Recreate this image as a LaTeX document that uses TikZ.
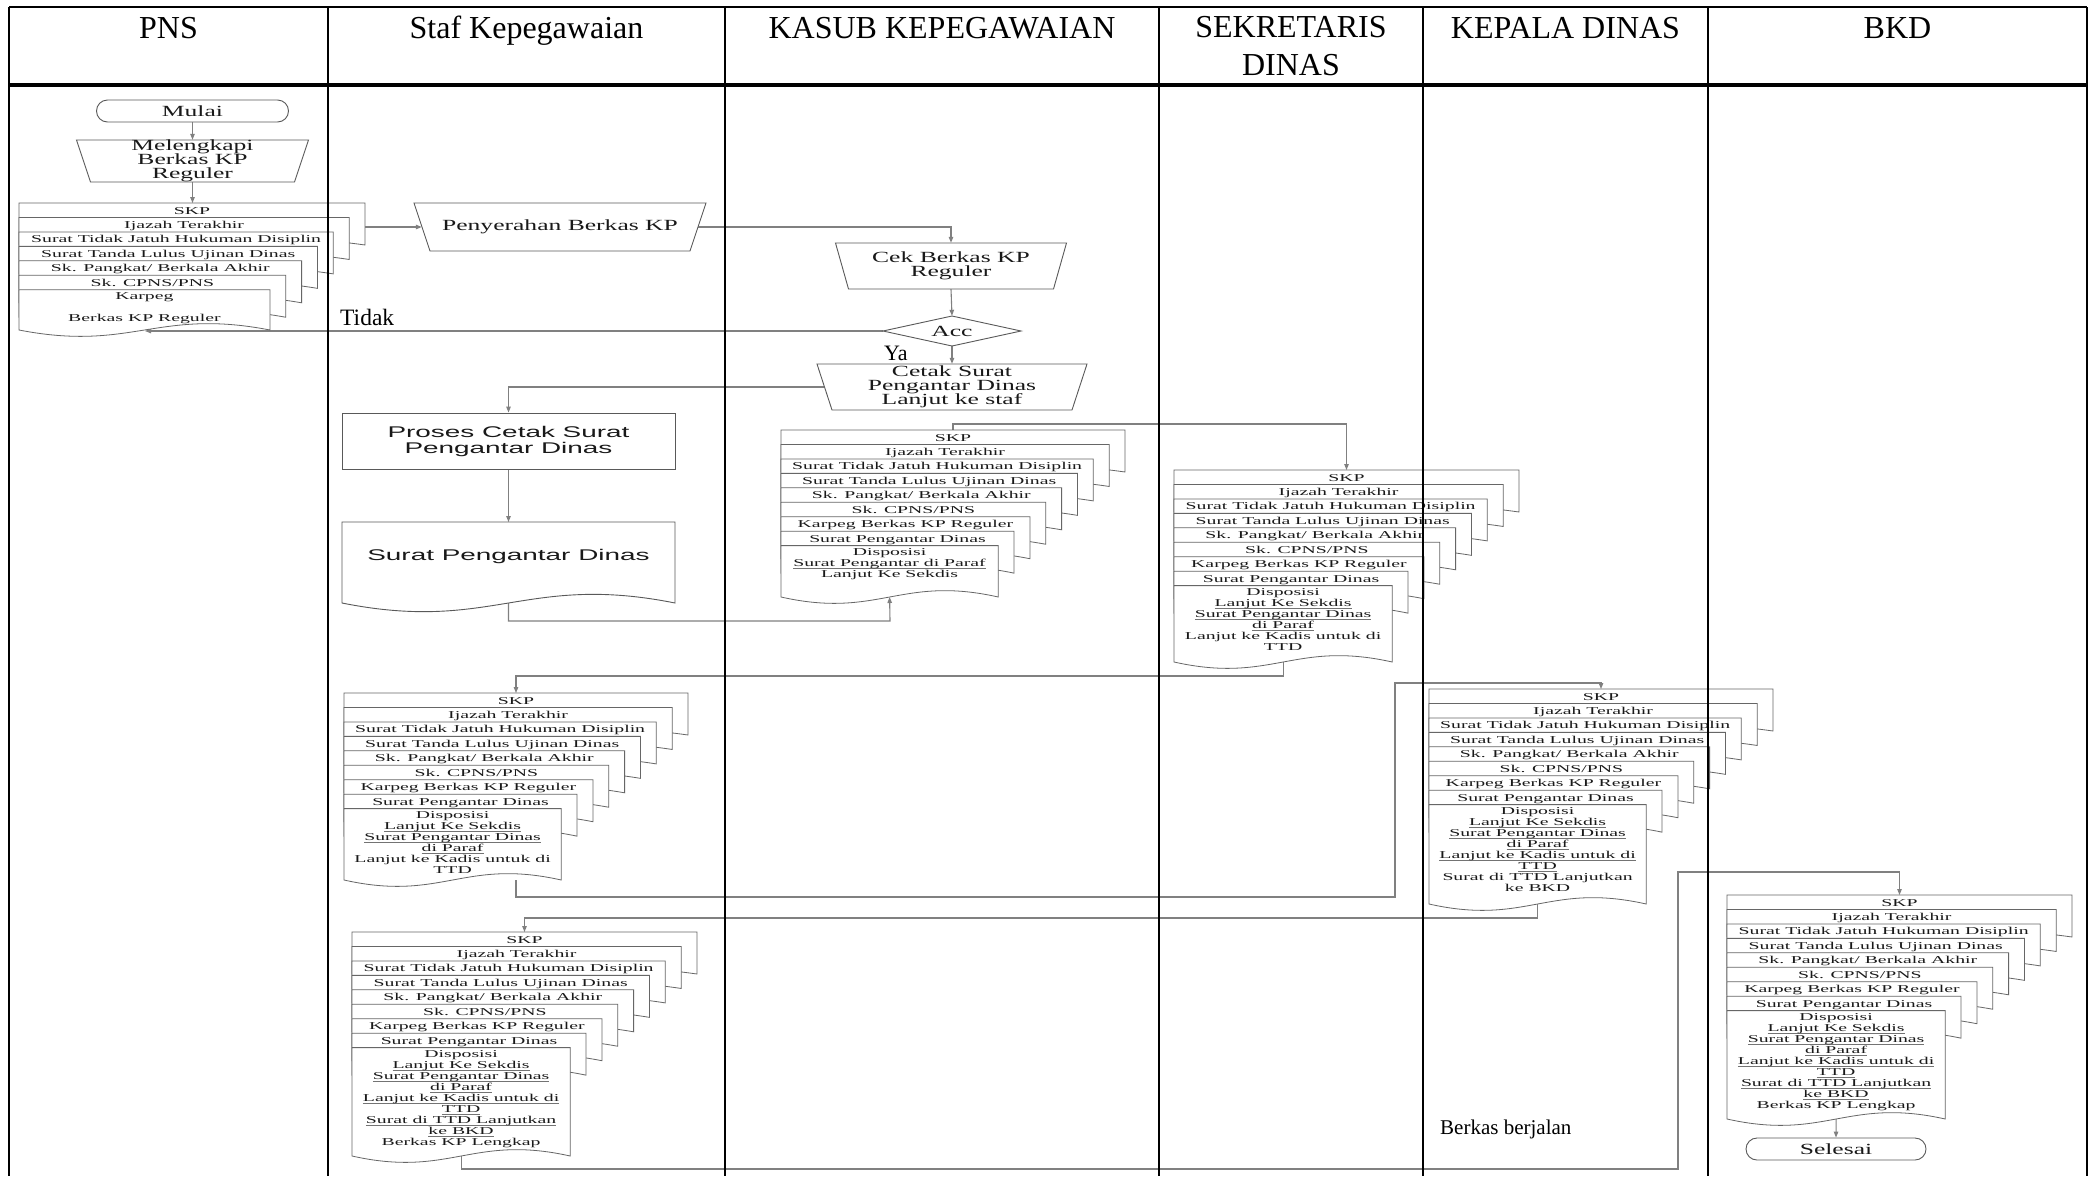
\documentclass[tikz,border=0pt]{standalone}
\usepackage{fontspec}
\setmainfont{Liberation Serif}
\newfontfamily\docfont[FakeStretch=1.88]{Liberation Serif}
\newfontfamily\boxfont[FakeStretch=1.65]{Liberation Serif}
\newfontfamily\docsans[FakeStretch=1.8]{Liberation Sans}
\usetikzlibrary{arrows.meta,shapes.misc}
\pgfdeclarelayer{bg}
\pgfdeclarelayer{fg}
\pgfsetlayers{bg,main,fg}

\tikzset{
  grid/.style={line width=2.6pt, black},
  gridhead/.style={line width=3.4pt, black},
  shapeline/.style={draw=black!65, line width=0.9pt, fill=white},
  sheet/.style={draw=black!60, line width=0.8pt, fill=white},
  conn/.style={draw=black!50, line width=1.1pt, -{Triangle[length=6pt,width=4.5pt]}},
  boxtext/.style={inner sep=0pt, align=center, text=black!90,
    font=\boxfont\fontsize{15.5}{14}\selectfont},
  sanstext/.style={inner sep=0pt, align=center, text=black!90,
    font=\docsans\fontsize{15.5}{16}\selectfont},
  sheetlabel/.style={inner sep=0pt, anchor=base, text=black!90,
    font=\docfont\fontsize{10.5}{11}\selectfont},
  fronttext/.style={inner sep=0pt, anchor=north, align=center, text=black!90,
    font=\docfont\fontsize{10.5}{11}\selectfont},
  headtext/.style={inner sep=0pt, align=center, font=\fontsize{32}{37.5}\selectfont},
  plaintext/.style={inner sep=0pt, anchor=base west},
}

% underline drawn just below the baseline, whatever the descenders
\newsavebox\ulbox
\newcommand\ulin[1]{\sbox\ulbox{#1}\rlap{\color{black!55}\rule[-1.7pt]{\wd\ulbox}{0.5pt}}\usebox\ulbox}

% one sheet: rectangle with a wavy lower edge
\newcommand\sheetpath[4]{%
  \pgfmathsetmacro\shw{#3-(#1)}%
  \path[sheet] (#1,#2) -- (#3,#2) -- (#3,#4)
    .. controls ({#3-0.45*\shw},{#4-22}) and ({#1+0.45*\shw},{#4+22}) .. (#1,#4) -- cycle;%
}

% stack of sheets: name, left, top, right, number of back sheets,
% bottom of front sheet, labels of back sheets, text of front sheet
\newcommand\docstack[8]{%
  \foreach \lab [count=\i from 0] in #7 {%
    \pgfmathsetmacro\shtop{#3+\i*14.45}%
    \pgfmathsetmacro\shright{#4-\i*15.85}%
    \pgfmathsetmacro\shbot{\shtop+42}%
    \sheetpath{#2}{\shtop}{\shright}{\shbot}%
    \node[sheetlabel] (#1-\i) at ({(#2+\shright)/2},{\shtop+11}) {\lab};%
  }%
  \pgfmathsetmacro\frtop{#3+#5*14.45}%
  \pgfmathsetmacro\frright{#4-#5*15.85}%
  \sheetpath{#2}{\frtop}{\frright}{#6}%
  \node[fronttext] (#1-front) at ({(#2+\frright)/2},{\frtop+3}) {#8};%
  \coordinate (#1-top) at ({(#2+#4)/2},#3);%
  \coordinate (#1-bot) at ({(#2+\frright)/2},#6);%
}

% manual operation box (wider at the top): name, cx, cy, width, height, inset, text
\newcommand\manualop[7]{%
  \path[shapeline] ({#2-#4/2},{#3-#5/2}) -- ({#2+#4/2},{#3-#5/2})
    -- ({#2+#4/2-#6},{#3+#5/2}) -- ({#2-#4/2+#6},{#3+#5/2}) -- cycle;%
  \node[boxtext, minimum width=#4, minimum height=#5] (#1) at (#2,#3) {#7};%
}

\newcommand\backsheets{SKP, Ijazah Terakhir, Surat Tidak Jatuh Hukuman Disiplin,
  Surat Tanda Lulus Ujinan Dinas, {Sk. Pangkat/ Berkala Akhir}, {Sk. CPNS/PNS},
  Karpeg Berkas KP Reguler, Surat Pengantar Dinas}

\begin{document}
\lineskiplimit=-20pt
\begin{tikzpicture}[x=1pt,y=-1pt]
\useasboundingbox (0,0) rectangle (2089,1176);
\begin{pgfonlayer}{bg}
  \fill[white] (0,0) rectangle (2089,1176);
\end{pgfonlayer}

% ---------- header ----------
\node[headtext, anchor=base] (h-pns) at (168.5,38) {PNS};
\node[headtext, anchor=base] (h-staf) at (526.5,38) {Staf Kepegawaian};
\node[headtext, anchor=base] (h-kasub) at (942,38) {KASUB KEPEGAWAIAN};
\node[headtext, anchor=north] (h-sek) at (1291,16.5) {SEKRETARIS\\DINAS};
\node[headtext, anchor=base] (h-kadis) at (1565.5,38) {KEPALA DINAS};
\node[headtext, anchor=base] (h-bkd) at (1897.5,38) {BKD};

% ---------- PNS ----------
\node[shapeline, rounded rectangle, minimum width=192, minimum height=22,
      boxtext] (mulai) at (192.5,111) {Mulai};
\manualop{mel}{192.5}{161}{232}{42}{14}{Melengkapi\\Berkas KP\\Reguler}
\docstack{A}{19}{203}{365}{6}{330}
  {{SKP, Ijazah Terakhir, Surat Tidak Jatuh Hukuman Disiplin,
    Surat Tanda Lulus Ujinan Dinas, {Sk. Pangkat/ Berkala Akhir}, {Sk. CPNS/PNS}}}
  {Karpeg\\[11pt]Berkas KP Reguler}
\coordinate (A-out) at (365,227);
\coordinate (tidak-end) at (145,331);
\node[plaintext, font=\fontsize{23.5}{26}\selectfont] (tidak) at (340,325) {Tidak};

% ---------- Staf Kepegawaian ----------
\manualop{peny}{560}{227}{292}{48}{16}{Penyerahan Berkas KP}
\node[shapeline, rectangle, minimum width=333, minimum height=56, sanstext]
  (proses) at (508.5,441) {Proses Cetak Surat\\Pengantar Dinas};
\path[shapeline] (342,522) -- (675,522) -- (675,603)
  .. controls (525,573) and (492,633) .. (342,603) -- cycle;
\node[sanstext] (spd) at (508.5,556) {Surat Pengantar Dinas};
\coordinate (spd-top) at (508.5,522);
\coordinate (spd-bot) at (508.5,603);
\docstack{D}{344}{693}{688}{8}{880}{\backsheets}
  {Disposisi\\\ulin{Lanjut Ke Sekdis}\\\ulin{Surat Pengantar Dinas}\\
   \ulin{di Paraf}\\Lanjut ke Kadis untuk di\\TTD}
\coordinate (D-out) at (516,880);
\docstack{F}{352}{932}{697}{8}{1156}{\backsheets}
  {Disposisi\\\ulin{Lanjut Ke Sekdis}\\\ulin{Surat Pengantar Dinas}\\
   \ulin{di Paraf}\\\ulin{Lanjut ke Kadis untuk di}\\\ulin{TTD}\\
   \ulin{Surat di TTD Lanjutkan}\\\ulin{ke BKD}\\Berkas KP Lengkap}

% ---------- Kasub Kepegawaian ----------
\manualop{cek}{951}{266}{231}{46}{13}{Cek Berkas KP\\Reguler}
\path[shapeline] (952,316) -- (1021,331) -- (952,346) -- (883,331) -- cycle;
\node[boxtext, minimum width=138, minimum height=30] (acc) at (952,331) {Acc};
\node[plaintext, font=\fontsize{22}{24}\selectfont] (ya) at (884,360) {Ya};
\manualop{cetak}{952}{387}{270}{46}{15}{Cetak Surat\\Pengantar Dinas\\Lanjut ke staf}
\docstack{B}{781}{430}{1125}{8}{597}{\backsheets}
  {Disposisi\\\ulin{Surat Pengantar di Paraf}\\Lanjut Ke Sekdis}

% ---------- Sekretaris Dinas ----------
\docstack{C}{1174}{470}{1519}{8}{662}{\backsheets}
  {Disposisi\\\ulin{Lanjut Ke Sekdis}\\\ulin{Surat Pengantar Dinas}\\
   \ulin{di Paraf}\\Lanjut ke Kadis untuk di\\TTD}

% ---------- Kepala Dinas ----------
\docstack{E}{1429}{689}{1773}{8}{904}{\backsheets}
  {Disposisi\\\ulin{Lanjut Ke Sekdis}\\\ulin{Surat Pengantar Dinas}\\
   \ulin{di Paraf}\\\ulin{Lanjut ke Kadis untuk di}\\\ulin{TTD}\\
   Surat di TTD Lanjutkan\\ke BKD}
\node[plaintext, font=\fontsize{21}{24}\selectfont] (jalan) at (1440,1134) {Berkas berjalan};

% ---------- BKD ----------
\docstack{G}{1727}{895}{2072}{8}{1119}{\backsheets}
  {Disposisi\\\ulin{Lanjut Ke Sekdis}\\\ulin{Surat Pengantar Dinas}\\
   \ulin{di Paraf}\\\ulin{Lanjut ke Kadis untuk di}\\\ulin{TTD}\\
   \ulin{Surat di TTD Lanjutkan}\\\ulin{ke BKD}\\Berkas KP Lengkap}
\node[shapeline, rounded rectangle, minimum width=180, minimum height=22,
      boxtext] (selesai) at (1836,1149) {Selesai};

% ---------- bends of the connectors ----------
\coordinate (k1) at (890,621);
\coordinate (k2) at (1346.5,424);
\coordinate (k3) at (516,676);
\coordinate (k4) at (1395,897);
\coordinate (k5) at (1601,683);
\coordinate (k6) at (524.5,918);
\coordinate (k7) at (1678,1169);
\coordinate (k8) at (1899.5,872);

% ---------- connectors ----------
\begin{pgfonlayer}{bg}
  \draw[conn] (mulai.south) -- (mel.north);
  \draw[conn] (mel.south) -- (mel.south |- A-top);
  \draw[conn] (A-out) -- ([xshift=8]peny.west);
  \draw[conn] ([xshift=-8]peny.east) -| (cek.north);
  \draw[conn] (cek.south) -- (acc.north);
  \draw[conn] (acc.south) -- (cetak.north);
  \draw[conn] (acc.west) -- (tidak-end);
  \draw[conn] ([xshift=7.5]cetak.west) -| (proses.north);
  \draw[conn] (proses.south) -- (spd-top);
  \draw[conn] (spd-bot) |- (k1) -- (B-bot);
  \draw[conn] (B-top) |- (k2) -- (C-top);
  \draw[conn] (C-bot) |- (k3) -- (D-top);
  \draw[conn] (D-out) |- (k4) |- (k5) -- (E-top);
  \draw[conn] (E-bot) |- (k6) -- (F-top);
  \draw[conn] (F-bot) |- (k7) |- (k8) -- (G-top);
  \draw[conn] (G-bot) -- (selesai.north);
\end{pgfonlayer}

% ---------- swimlane table ----------
\begin{pgfonlayer}{fg}
  \draw[grid] (9,7) -- (2087,7);
  \draw[gridhead] (9,85) -- (2087,85);
  \foreach \cx in {9,328,725,1159,1423,1708,2087}
    \draw[grid] (\cx,7) -- (\cx,1176);
\end{pgfonlayer}
\end{tikzpicture}
\end{document}
